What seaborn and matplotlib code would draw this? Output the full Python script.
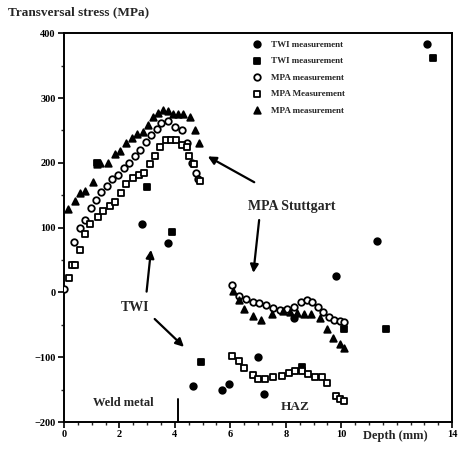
import numpy as np
import pandas as pd
import matplotlib
matplotlib.use("Agg")
import matplotlib.pyplot as plt
import seaborn as sns
from matplotlib.ticker import MultipleLocator

# data (depth in mm, stress in MPa)
twi_circ_x = [2.8, 3.75, 4.66, 5.7, 5.95, 7.0, 7.2, 8.3, 9.8, 11.3, 13.1]
twi_circ_y = [105, 77, -145, -151, -142, -100, -157, -39, 26, 80, 384]

twi_sq_x = [1.2, 3.0, 3.9, 4.95, 8.6, 10.1, 11.6, 13.3]
twi_sq_y = [200, 162, 94, -108, -115, -56, -56, 362]

mpa_circ_x = [0.0, 0.36, 0.58, 0.75, 0.97, 1.15, 1.35, 1.55, 1.75, 1.95, 2.15,
              2.35, 2.55, 2.75, 2.95, 3.15, 3.35, 3.5, 3.75, 4.0, 4.25, 4.45,
              4.6, 4.75, 4.85,
              6.06, 6.3, 6.55, 6.8, 7.05, 7.3, 7.55, 7.8, 8.05, 8.3, 8.55,
              8.75, 8.95, 9.15, 9.35, 9.55, 9.75, 9.95, 10.1]
mpa_circ_y = [5, 78, 100, 112, 130, 143, 155, 165, 175, 182, 192,
              200, 210, 220, 232, 243, 252, 262, 264, 255, 250, 230,
              200, 185, 175,
              12, -5, -10, -14, -17, -20, -24, -27, -26, -22, -15,
              -12, -15, -22, -30, -38, -42, -44, -46]

mpa_sq_x = [0.2, 0.28, 0.4, 0.58, 0.76, 0.94, 1.23, 1.4, 1.66, 1.84, 2.06,
            2.24, 2.5, 2.7, 2.9, 3.1, 3.28, 3.47, 3.68, 3.86, 4.04, 4.25,
            4.45, 4.5, 4.7, 4.9,
            6.06, 6.3, 6.5, 6.8, 7.0, 7.25, 7.55, 7.85, 8.1, 8.35, 8.6,
            8.8, 9.05, 9.3, 9.5, 9.8, 9.95, 10.1]
mpa_sq_y = [22, 43, 43, 65, 90, 105, 117, 125, 133, 140, 154,
            167, 177, 182, 185, 198, 210, 224, 236, 236, 236, 228,
            225, 210, 198, 172,
            -98, -106, -116, -127, -134, -134, -131, -129, -124, -121, -121,
            -126, -131, -131, -139, -160, -165, -168]

mpa_tri_x = [0.15, 0.4, 0.58, 0.76, 1.05, 1.19, 1.3, 1.59, 1.84, 2.02, 2.24,
             2.45, 2.64, 2.85, 3.03, 3.21, 3.4, 3.57, 3.76, 3.94, 4.12, 4.3,
             4.55, 4.73, 4.88,
             6.1, 6.3, 6.5, 6.8, 7.1, 7.5, 7.9, 8.15, 8.4, 8.65, 8.9,
             9.25, 9.5, 9.7, 9.96, 10.1]
mpa_tri_y = [128, 141, 154, 156, 171, 198, 200, 200, 213, 218, 231,
             239, 244, 247, 259, 270, 277, 282, 280, 275, 275, 275,
             270, 251, 231,
             2, -12, -26, -36, -42, -34, -28, -30, -31, -33, -34,
             -39, -56, -71, -80, -85]

labels = ["TWI measurement", "TWI measurement", "MPA measurement",
          "MPA Measurement", "MPA measurement"]

sns.set_theme(style="ticks")
plt.rcParams["font.family"] = ["Liberation Serif", "DejaVu Serif"]
plt.rcParams["font.weight"] = "bold"

fig = plt.figure(figsize=(4.6, 4.49), dpi=100)
ax = fig.add_axes([0.139, 0.060, 0.844, 0.866])

series = [
    (twi_circ_x, twi_circ_y, "o", "black", labels[0]),
    (twi_sq_x, twi_sq_y, "s", "black", labels[1]),
    (mpa_circ_x, mpa_circ_y, "o", "white", labels[2]),
    (mpa_sq_x, mpa_sq_y, "s", "white", labels[3]),
    (mpa_tri_x, mpa_tri_y, "^", "black", labels[4]),
]
for xs, ys, mk, fc, lab in series:
    df = pd.DataFrame({"depth": xs, "stress": ys})
    sns.scatterplot(data=df, x="depth", y="stress", marker=mk, s=22,
                    color=fc, edgecolor="black", linewidth=1.3,
                    label=lab, ax=ax, zorder=3)

ax.set_xlim(0, 14)
ax.set_ylim(-200, 400)
ax.set_xticks([0, 2, 4, 6, 8, 10, 14])
ax.set_yticks(range(-200, 401, 100))
ax.xaxis.set_minor_locator(MultipleLocator(0.5))
ax.yaxis.set_minor_locator(MultipleLocator(50))
ax.tick_params(axis="both", which="major", labelsize=7.5, length=4,
               width=1.2, direction="out", pad=2, colors="black")
ax.tick_params(axis="both", which="minor", length=2, width=1, direction="out")
for lab in ax.get_xticklabels() + ax.get_yticklabels():
    lab.set_fontweight("bold")
for sp in ax.spines.values():
    sp.set_visible(True)
    sp.set_linewidth(1.4)
    sp.set_color("black")
ax.set_xlabel("")
ax.set_ylabel("")

fig.text(0.017, 0.972, "Transversal stress (MPa)", fontsize=9.5,
         fontweight="bold", ha="left", va="center")
ax.text(11.95, -212, "Depth (mm)", fontsize=9, fontweight="bold",
        ha="center", va="top")

leg = ax.legend(loc="upper left", bbox_to_anchor=(0.455, 1.0), frameon=False,
                fontsize=6.5, handletextpad=0.6, labelspacing=0.9,
                borderaxespad=0.4)
for t in leg.get_texts():
    t.set_fontweight("bold")

# annotations
ax.text(8.2, 133, "MPA Stuttgart", fontsize=10, fontweight="bold",
        ha="center", va="center")
ax.annotate("", xy=(5.1, 212), xytext=(6.95, 168),
            arrowprops=dict(arrowstyle="-|>", color="black", lw=1.6,
                            mutation_scale=12))
ax.annotate("", xy=(6.82, 26), xytext=(7.05, 116),
            arrowprops=dict(arrowstyle="-|>", color="black", lw=1.6,
                            mutation_scale=12))
ax.text(2.56, -23, "TWI", fontsize=10, fontweight="bold",
        ha="center", va="center")
ax.annotate("", xy=(3.15, 70), xytext=(2.97, -3),
            arrowprops=dict(arrowstyle="-|>", color="black", lw=1.6,
                            mutation_scale=12))
ax.annotate("", xy=(4.4, -87), xytext=(3.2, -38),
            arrowprops=dict(arrowstyle="-|>", color="black", lw=1.6,
                            mutation_scale=12))
ax.text(2.13, -170, "Weld metal", fontsize=9, fontweight="bold",
        ha="center", va="center")
ax.text(8.35, -177, "HAZ", fontsize=9.5, fontweight="bold",
        ha="center", va="center")
ax.plot([4.1, 4.1], [-200, -165], color="black", lw=1.4)

fig.savefig("out.png", dpi=100, facecolor="white")
